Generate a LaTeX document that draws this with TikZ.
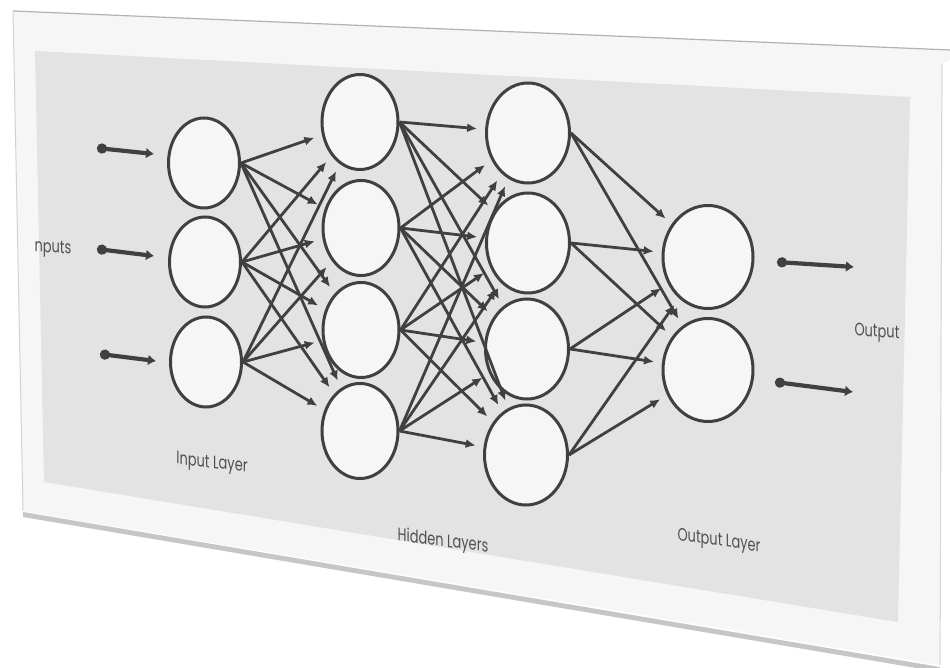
\documentclass[tikz,border=0pt]{standalone}
\usepackage{fontspec}
\setmainfont{Poppins}
\usetikzlibrary{shapes.geometric,arrows.meta}
\definecolor{ink}{HTML}{404040}
\definecolor{panel}{HTML}{E3E3E3}
\definecolor{frame}{HTML}{F6F6F6}
\definecolor{cellfill}{HTML}{F6F6F6}
\definecolor{txt}{HTML}{505050}
\tikzset{
  neuron/.style={ellipse, draw=ink, line width=1.5pt, fill=cellfill, inner sep=0pt},
  nin/.style={neuron, minimum width=35.5pt, minimum height=45pt},
  nh1/.style={neuron, minimum width=38pt, minimum height=47.5pt},
  nh2/.style={neuron, minimum width=41.5pt, minimum height=50pt},
  nout/.style={neuron, minimum width=45pt, minimum height=51.5pt},
  conn/.style={draw=ink, line width=1.4pt, -{Latex[length=5pt,width=4.5pt]}, shorten >=4pt},
  ioarrow/.style={draw=ink, line width=2.1pt, {Circle[length=5pt]}-{Latex[length=4pt,width=5.5pt]}},
  lbl/.style={text=txt, font=\fontsize{9}{10}\selectfont, inner sep=0pt}
}
\begin{document}
\begin{tikzpicture}[x=0.5pt,y=-0.5pt]
\useasboundingbox (0,0) rectangle (950,668);
\fill[white] (0,0) rectangle (950,668);
% shadow of frame
\fill[gray!45] (23,512) -- (940,667) -- (940,672) -- (23,517) -- cycle;
% outer frame
\fill[frame] (13,11) -- (950,50) -- (950,60) -- (942,64) -- (940,665) -- (23,511) -- cycle;
\draw[gray!60, line width=0.6pt] (13,11) -- (950,50);
\draw[gray!35, line width=0.5pt] (13,11) -- (23,511);
\fill[white] (942,64) -- (950,60) -- (950,668) -- (940,665) -- cycle;
\draw[gray!30, line width=0.6pt] (942,64) -- (940,665);
% grey panel
\fill[panel] (35,51) -- (910,97) -- (898,622) -- (44,482) -- cycle;

% neurons
\node[nin] (I1) at (204,163) {};
\node[nin] (I2) at (205,262) {};
\node[nin] (I3) at (206,362) {};
\node[nh1] (H1a) at (360,122) {};
\node[nh1] (H1b) at (361,228) {};
\node[nh1] (H1c) at (361,330) {};
\node[nh1] (H1d) at (360,431) {};
\node[nh2] (H2a) at (528,133) {};
\node[nh2] (H2b) at (528,243) {};
\node[nh2] (H2c) at (527,349) {};
\node[nh2] (H2d) at (526,455) {};
\node[nout] (O1) at (708,257) {};
\node[nout] (O2) at (708,370) {};

% connections
\foreach \s in {I1,I2,I3}
  \foreach \t in {H1a,H1b,H1c,H1d}
    \draw[conn] (\s.east) -- (\t);
\foreach \s in {H1a,H1b,H1c,H1d}
  \foreach \t in {H2a,H2b,H2c,H2d}
    \draw[conn] (\s.east) -- (\t);
\foreach \s in {H2a,H2b,H2c,H2d}
  \foreach \t in {O1,O2}
    \draw[conn] (\s.east) -- (\t);

% input arrows
\coordinate (a1s) at (97,148);  \coordinate (a1e) at (154,154);
\coordinate (a2s) at (97,249);  \coordinate (a2e) at (154,256);
\coordinate (a3s) at (100,354); \coordinate (a3e) at (156,361);
\draw[ioarrow] (a1s) -- (a1e);
\draw[ioarrow] (a2s) -- (a2e);
\draw[ioarrow] (a3s) -- (a3e);
% output arrows
\coordinate (b1s) at (777,262); \coordinate (b1e) at (854,267);
\coordinate (b2s) at (775,382); \coordinate (b2e) at (853,392);
\draw[ioarrow] (b1s) -- (b1e);
\draw[ioarrow] (b2s) -- (b2e);

% labels
\node[lbl, yslant=-0.05] (tin) at (53,249) {\scalebox{0.72}[1]{nputs}};
\node[lbl, yslant=-0.12] (tinl) at (212,464) {\scalebox{0.72}[1]{Input Layer}};
\node[lbl, yslant=-0.13] (thl) at (443,542) {\scalebox{0.72}[1]{Hidden Layers}};
\node[lbl, yslant=-0.14] (tol) at (719,542) {\scalebox{0.72}[1]{Output Layer}};
\node[lbl, yslant=-0.07] (tout) at (877,333) {\scalebox{0.72}[1]{Output}};
\end{tikzpicture}
\end{document}
